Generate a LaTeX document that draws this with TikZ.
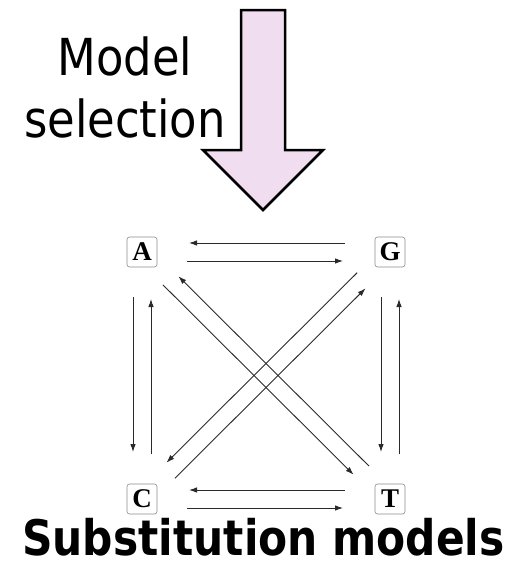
\documentclass[tikz,border=0pt]{standalone}
\usepackage{fontspec}
\usetikzlibrary{arrows.meta, calc}
\setmainfont{Liberation Serif}
\newfontfamily\labelfont[FakeStretch=0.88]{DejaVu Sans}
\newfontfamily\titlefont[FakeStretch=0.865]{DejaVu Sans}
\definecolor{pinkFill}{HTML}{F0DEF0}
\definecolor{boxLine}{HTML}{8C8C8C}
\definecolor{arrow}{HTML}{2A2A2A}
\tikzset{
  base/.style={
    rectangle, draw=boxLine, line width=0.6pt, rounded corners=2.5pt,
    minimum size=30pt, inner sep=0pt, fill=white,
    font=\fontsize{27}{27}\selectfont\bfseries
  },
  arr/.style={-{Latex[length=8pt, width=5.5pt]}, line width=0.9pt, draw=arrow},
  caption/.style={font=\labelfont\fontsize{51}{51}\selectfont, anchor=base}
}

\begin{document}
\begin{tikzpicture}[x=1pt, y=-1pt]
\useasboundingbox (0,0) rectangle (528,562);

% ---------------- Selection arrow ----------------
\draw[line width=2.5pt, fill=pinkFill]
  (241,10) -- (285,10) -- (285,150) -- (323,150) -- (263,210)
  -- (203,150) -- (241,150) -- cycle;
\node[caption] (model) at (125,75) {Model};
\node[caption] (selection) at (125,137) {selection};

% ---------------- Bases ----------------
\node[base] (A) at (142,252) {A};
\node[base] (G) at (390,252) {G};
\node[base] (C) at (142,499) {C};
\node[base] (T) at (390,499) {T};

% ---------------- Substitutions ----------------
\foreach \a/\b in {A/G, G/A, C/T, T/C, A/C, C/A, G/T, T/G}
  \draw[arr, shorten <=45pt, shorten >=47pt]
    ($(\a)!9pt!-90:(\b)$) -- ($(\b)!9pt!90:(\a)$);
\foreach \a/\b in {A/T, T/A, G/C, C/G}
  \draw[arr, shorten <=38pt, shorten >=43pt]
    ($(\a)!8.5pt!-90:(\b)$) -- ($(\b)!8.5pt!90:(\a)$);

% ---------------- Title ----------------
\node[anchor=base, inner sep=0pt, font=\titlefont\bfseries\fontsize{49}{49}\selectfont]
  (title) at (263.5,555) {Substitution models};

\end{tikzpicture}
\end{document}
